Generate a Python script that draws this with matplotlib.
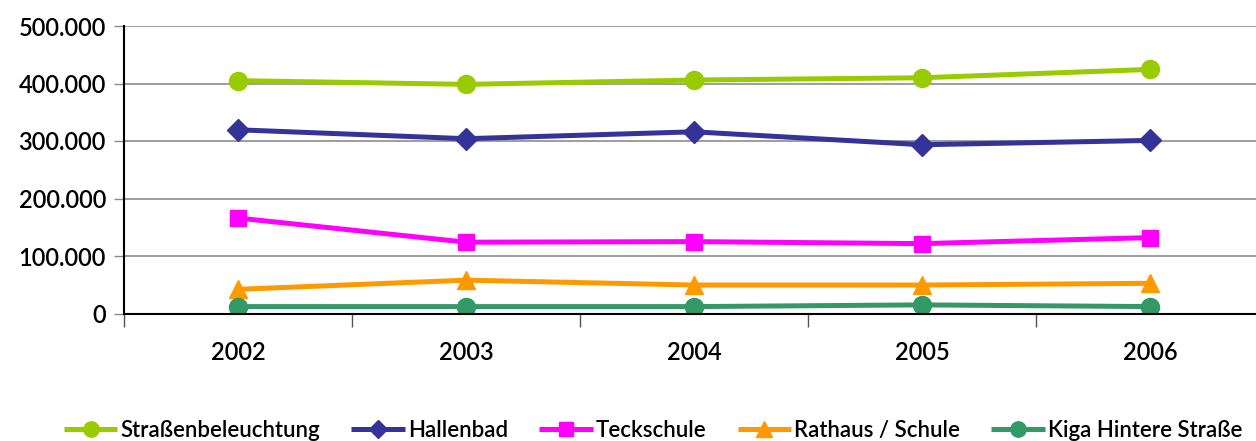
import matplotlib
matplotlib.use("Agg")
import matplotlib.pyplot as plt
from matplotlib.ticker import FuncFormatter

plt.rcParams['font.family'] = ['Lato', 'DejaVu Sans']

jahre = ['2002', '2003', '2004', '2005', '2006']
strassenbeleuchtung = [405000, 398500, 406000, 410000, 424500]
hallenbad = [319500, 304000, 316000, 293500, 301000]
teckschule = [166000, 124000, 125000, 121500, 132000]
rathaus_schule = [42000, 58000, 49500, 49500, 52500]
kiga = [12000, 12000, 12000, 15000, 12000]

serien = [
    ('Straßenbeleuchtung', strassenbeleuchtung, '#99cc00', 'o', 13),
    ('Hallenbad', hallenbad, '#333399', 'D', 11),
    ('Teckschule', teckschule, '#ff00ff', 's', 12),
    ('Rathaus / Schule', rathaus_schule, '#ff9900', '^', 13),
    ('Kiga Hintere Straße', kiga, '#339966', 'o', 13),
]

fig = plt.figure(figsize=(12.56, 4.41), dpi=100)
# Zeichenflaeche laeuft rechts ueber den Bildrand hinaus, wie im Original
ax = fig.add_axes([124 / 1256, 1 - 313.5 / 441, 1140 / 1256, 287.5 / 441])

x = range(len(jahre))
for name, werte, farbe, marker, ms in serien:
    ax.plot(x, werte, color=farbe, lw=3.6, marker=marker, ms=ms,
            label=name, solid_capstyle='butt')

ax.set_xlim(-0.5, len(jahre) - 0.5)
ax.set_ylim(0, 500000)
ax.set_yticks(range(0, 500001, 100000))
ax.yaxis.set_major_formatter(FuncFormatter(lambda v, p: f'{int(v):,}'.replace(',', '.')))
ax.set_xticks(list(x))
ax.set_xticklabels(jahre)
ax.set_xticks([i + 0.5 for i in range(-1, len(jahre))], minor=True)

ax.grid(axis='y', color='#8c8c8c', lw=1.2)
ax.set_axisbelow(True)
for s in ['top', 'right']:
    ax.spines[s].set_visible(False)
ax.spines['left'].set_color('black')
ax.spines['bottom'].set_color('black')
ax.spines['left'].set_linewidth(1.5)
ax.spines['bottom'].set_linewidth(1.5)

ax.tick_params(axis='y', length=7, width=1, color='#888888', labelsize=17, pad=6)
for lbl in ax.get_yticklabels() + ax.get_xticklabels():
    lbl.set_fontweight('semibold')
ax.tick_params(axis='x', which='major', length=0, labelsize=17, pad=20)
ax.tick_params(axis='x', which='minor', length=9, width=1, color='#555555')

leg = fig.legend(loc='lower center', bbox_to_anchor=(0.52, -0.045), ncol=5, frameon=False,
                 handlelength=2.4, handletextpad=0.15, columnspacing=1.4, markerscale=0.85,
                 prop={'size': 16, 'weight': 'semibold'})

fig.savefig('out.png', dpi=100)
